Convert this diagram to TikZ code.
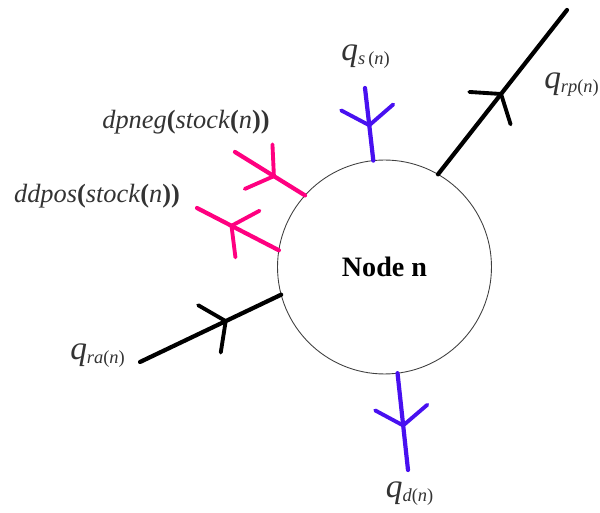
\documentclass[tikz,border=0pt]{standalone}
\usepackage{fontspec}
\setmainfont{Liberation Serif}
\usepackage{xcolor}
\usetikzlibrary{arrows.meta, decorations.markings}
\definecolor{flowblue}{RGB}{72,16,240}
\definecolor{flowpink}{RGB}{255,0,128}
\newcommand{\qbig}{{\fontsize{19}{20}\selectfont\textit{q}}}
\begin{document}
\begin{tikzpicture}[
    x=0.02cm, y=-0.02cm,
    nodecirc/.style={draw=black!75, line width=0.5pt, circle, minimum size=4.28cm,
                    inner sep=0pt, outer sep=0pt, font=\fontsize{16}{18}\selectfont\bfseries},
    flow/.style={line width=2.4pt, line cap=round, postaction={decorate},
                decoration={markings, mark=at position #1 with
                {\arrow{Straight Barb[length=3.6mm, width=10.5mm, line width=2.2pt, round]}}}},
    lbl/.style={font=\fontsize{15}{17}\selectfont, text=black!80, inner sep=0pt}
]
\useasboundingbox (0,0) rectangle (600,513);
\node[nodecirc] (nd) at (384.5,267) {Node n};
\coordinate (qsEnd) at (365,88);
\coordinate (qrpEnd) at (567,10);
\coordinate (dpnegEnd) at (235,152);
\coordinate (ddposEnd) at (197,208);
\coordinate (qraEnd) at (140,362);
\coordinate (qdEnd) at (408,470);
\node[lbl] (qsLbl) at (366,57) {\qbig\textsubscript{\textit{s}\,(\textit{n})}};
\node[lbl] (qrpLbl) at (572,85) {\qbig\textsubscript{\textit{rp}(\textit{n})}};
\node[lbl] (dpnegLbl) at (186,122) {\textit{dpneg}\textbf{(}\textit{stock}\textbf{(}\textit{n}\textbf{))}};
\node[lbl] (ddposLbl) at (97,196) {\textit{ddpos}\textbf{(}\textit{stock}\textbf{(}\textit{n}\textbf{))}};
\node[lbl] (qraLbl) at (98,356) {\qbig\textsubscript{\textit{ra}(\textit{n})}};
\node[lbl] (qdLbl) at (410,494) {\qbig\textsubscript{\textit{d}(\textit{n})}};
\draw[flow=0.54, flowblue] (qsEnd) -- (nd.96);
\draw[flow=0.56, flowblue] (nd.277) -- (qdEnd);
\draw[flow=0.5, black] (nd.60) -- (qrpEnd);
\draw[flow=0.62, black] (qraEnd) -- (nd.195);
\draw[flow=0.58, flowpink] (dpnegEnd) -- (nd.138);
\draw[flow=0.6, flowpink] (nd.171) -- (ddposEnd);
\end{tikzpicture}
\end{document}
